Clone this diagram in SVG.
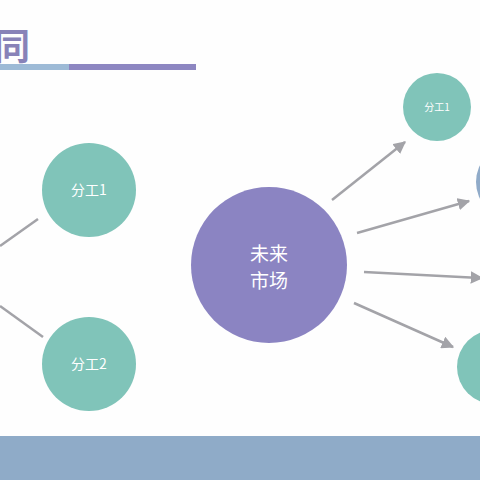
<svg xmlns="http://www.w3.org/2000/svg" width="480" height="480" viewBox="0 0 480 480">
<defs>
<style>
.teal{fill:#80c4b9}
.purple{fill:#8b84c2}
.blue{fill:#90abc9}
.lbl{fill:#ffffff;font-family:"Noto Sans CJK SC","Noto Sans",sans-serif;text-anchor:middle}
.conn{stroke:#a3a3a8;stroke-width:2.5;fill:none}
</style>
<marker id="ah" viewBox="0 0 10 10" refX="9" refY="5" markerWidth="5" markerHeight="5" markerUnits="strokeWidth" orient="auto">
<path d="M0,0 L10,5 L0,10 z" fill="#a3a3a8"/>
</marker>
</defs>
<rect width="480" height="480" fill="#fefefe"/>
<g id="title">
<text x="-6" y="60" font-family="Noto Sans CJK SC,sans-serif" font-weight="bold" font-size="36" fill="#8882b8">同</text>
<rect x="0" y="64" width="69" height="6" fill="#9dbad6"/>
<rect x="69" y="64" width="127" height="6" fill="#8d86c1"/>
</g>
<g id="connectors">
<line class="conn" x1="0" y1="246" x2="38" y2="219"/>
<line class="conn" x1="0" y1="306" x2="43" y2="337"/>
<line class="conn" x1="332" y1="200" x2="405" y2="142" marker-end="url(#ah)"/>
<line class="conn" x1="357" y1="233" x2="469" y2="201" marker-end="url(#ah)"/>
<line class="conn" x1="364" y1="272" x2="482" y2="278" marker-end="url(#ah)"/>
<line class="conn" x1="354" y1="303" x2="453" y2="347" marker-end="url(#ah)"/>
</g>
<g id="left-fengong1">
<circle class="teal" cx="89" cy="190" r="47"/>
<text class="lbl" x="89" y="195" font-size="14">分工1</text>
</g>
<g id="left-fengong2">
<circle class="teal" cx="89" cy="364" r="47"/>
<text class="lbl" x="89" y="369" font-size="14">分工2</text>
</g>
<g id="center">
<circle class="purple" cx="269" cy="265" r="78"/>
<text class="lbl" x="269" y="261" font-size="19">未来</text>
<text class="lbl" x="269" y="288" font-size="19">市场</text>
</g>
<g id="right-fengong1">
<circle class="teal" cx="437" cy="107" r="34"/>
<text class="lbl" x="437" y="111" font-size="10">分工1</text>
</g>
<g id="right-blue">
<circle class="blue" cx="513" cy="182" r="37"/>
</g>
<g id="right-teal">
<circle class="teal" cx="494" cy="367" r="37"/>
</g>
<rect id="band" x="0" y="436" width="480" height="44" fill="#8fabc8"/>
</svg>
